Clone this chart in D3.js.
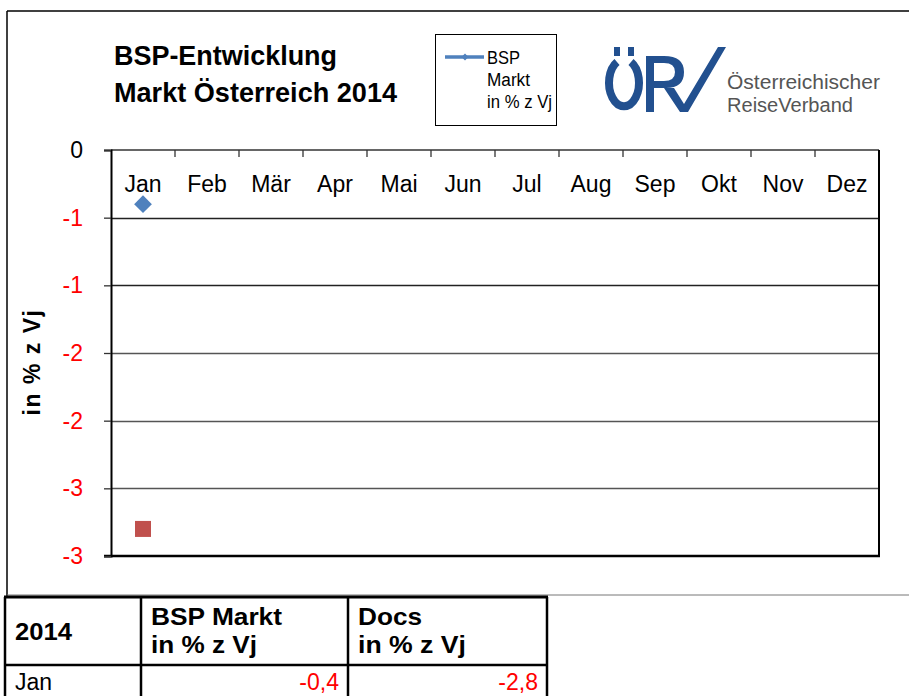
<!DOCTYPE html>
<html><head><meta charset="utf-8">
<script src="https://cdn.jsdelivr.net/npm/d3@7"></script>
<style>
html,body{margin:0;padding:0;background:#fff;}
svg{display:block;font-family:"Liberation Sans",Arial,sans-serif;}
</style></head>
<body>
<svg id="c" width="909" height="696"></svg>
<script>
// ---- data ----
const months = ["Jan","Feb","Mär","Apr","Mai","Jun","Jul","Aug","Sep","Okt","Nov","Dez"];
const bspMarkt = [-0.4];          // BSP Markt in % z Vj
const docs = [-2.8];              // Docs in % z Vj
const yTicks = [0,-0.5,-1,-1.5,-2,-2.5,-3];
const yTickLabels = ["0","-1","-1","-2","-2","-3","-3"];
const tableHeader = ["2014","BSP Markt|in % z Vj","Docs|in % z Vj"];
const tableRows = [["Jan","-0,4","-2,8"]];

const svg = d3.select("#c");
const L=111, R=879, T=150, B=556;
const x = d3.scaleBand().domain(months).range([L,R]).padding(0);
const y = d3.scaleLinear().domain([0,-3]).range([T,B]);

// helper: fit text to a measured width
function fit(sel, w){ sel.attr("textLength",w).attr("lengthAdjust","spacingAndGlyphs"); return sel; }

// outer frame
svg.append("line").attr("x1",7).attr("x2",909).attr("y1",11).attr("y2",11).attr("stroke","#000").attr("stroke-width",1.5);
svg.append("line").attr("x1",7).attr("x2",7).attr("y1",11).attr("y2",596).attr("stroke","#000").attr("stroke-width",1.5);
svg.append("line").attr("x1",7).attr("x2",909).attr("y1",595).attr("y2",595).attr("stroke","#777").attr("stroke-width",1);

// title
const title = svg.append("text").attr("font-weight","bold").attr("font-size",27).attr("fill","#000");
fit(title.append("tspan").attr("x",114).attr("y",65).text("BSP-Entwicklung"),223);
fit(title.append("tspan").attr("x",114).attr("y",102).text("Markt Österreich 2014"),283);

// legend
const lg = svg.append("g");
lg.append("rect").attr("x",435.5).attr("y",34.5).attr("width",121).attr("height",91).attr("fill","#fff").attr("stroke","#000").attr("stroke-width",1);
lg.append("line").attr("x1",445).attr("x2",484).attr("y1",57).attr("y2",57).attr("stroke","#4f81bd").attr("stroke-width",3.5);
lg.append("path").attr("d",d3.symbol(d3.symbolDiamond2,30)()).attr("transform","translate(465,57)").attr("fill","#4f81bd");
const legendLines = [["BSP",33],["Markt",43],["in % z Vj",65]];
legendLines.forEach((s,i)=>fit(lg.append("text").attr("font-size",18).attr("fill","#000").attr("x",487).attr("y",64+i*22).text(s[0]),s[1]));

// logo
const blue="#22508f";
const lgo = svg.append("g");
lgo.append("path").attr("d","M617,62 A15,23.5 0 1 0 631,62").attr("fill","none").attr("stroke",blue).attr("stroke-width",8);
lgo.append("rect").attr("x",614).attr("y",47).attr("width",6).attr("height",9).attr("fill",blue);
lgo.append("rect").attr("x",628).attr("y",47).attr("width",6).attr("height",9).attr("fill",blue);
lgo.append("path").attr("d","M646,56 L664,56 Q684,56 684,72 Q684,88 666,88 L654,88 L654,112 L646,112 Z M654,63 L654,81 L664,81 Q675,81 675,72 Q675,63 664,63 Z").attr("fill",blue).attr("fill-rule","evenodd");
lgo.append("path").attr("d","M664,88 L674,88 L684,104 L718,47 L726,47 L688,112 L680,112 Z").attr("fill",blue);
fit(lgo.append("text").attr("font-size",20).attr("fill","#555").attr("x",727).attr("y",89).text("Österreichischer"),153);
fit(lgo.append("text").attr("font-size",20).attr("fill","#555").attr("x",727).attr("y",112).text("ReiseVerband"),126);

// gridlines
svg.append("g").selectAll("line").data(yTicks.filter(d=>d!==0 && d!==-3)).join("line")
  .attr("x1",L).attr("x2",R).attr("y1",d=>Math.round(y(d))+0.5).attr("y2",d=>Math.round(y(d))+0.5)
  .attr("stroke",(d,i)=>i<2?"#222":"#555").attr("stroke-width",1.3);

// plot border
svg.append("line").attr("x1",L).attr("x2",R).attr("y1",T).attr("y2",T).attr("stroke","#333").attr("stroke-width",1.5);
svg.append("line").attr("x1",R).attr("x2",R).attr("y1",T).attr("y2",B).attr("stroke","#000").attr("stroke-width",2);
svg.append("line").attr("x1",L-7).attr("x2",R+1).attr("y1",B).attr("y2",B).attr("stroke","#000").attr("stroke-width",2.5);

// y axis
const yAxis = d3.axisLeft(y).tickValues(yTicks).tickFormat((d,i)=>yTickLabels[i]).tickSize(7).tickPadding(21);
const ya = svg.append("g").attr("transform",`translate(${L},0)`).call(yAxis);
ya.select(".domain").attr("stroke","#000").attr("stroke-width",2);
ya.selectAll(".tick line").attr("stroke","#333").attr("stroke-width",1.3);
ya.selectAll(".tick text").attr("font-size",23).attr("font-family","'Liberation Sans',Arial,sans-serif")
  .attr("fill",(d,i)=>i===0?"#000":"#ff0000");

// x axis (top, labels inside)
const xAxis = d3.axisTop(x).tickSize(0).tickPadding(0);
const xa = svg.append("g").attr("transform",`translate(0,${T})`).call(xAxis);
xa.select(".domain").remove();
xa.selectAll(".tick text").attr("font-size",23).attr("font-family","'Liberation Sans',Arial,sans-serif").attr("fill","#000").attr("y",42).attr("dy",0);
svg.append("g").selectAll("line").data(months.slice(1)).join("line")
  .attr("x1",d=>x(d)).attr("x2",d=>x(d)).attr("y1",T).attr("y2",T+7).attr("stroke","#333").attr("stroke-width",1.3);

// y title
svg.append("text").attr("transform","translate(40,362) rotate(-90)").attr("text-anchor","middle")
  .attr("font-weight","bold").attr("font-size",23).attr("letter-spacing",1.5).text("in % z Vj");

// marks
svg.append("g").selectAll("path").data(bspMarkt).join("path")
  .attr("d",d3.symbol(d3.symbolDiamond2,200)())
  .attr("transform",(d,i)=>`translate(${x(months[i])+x.bandwidth()/2},${y(d)})`).attr("fill","#4f81bd");
svg.append("g").selectAll("rect").data(docs).join("rect")
  .attr("x",(d,i)=>x(months[i])+x.bandwidth()/2-8).attr("y",d=>y(d)-8).attr("width",16).attr("height",16).attr("fill","#c0504d");

// table
const cols=[5,141,348,547];
const tg = svg.append("g");
const tTop=597, tMid=665, tBot=740;
tg.append("line").attr("x1",cols[0]-1).attr("x2",cols[3]+1).attr("y1",tTop).attr("y2",tTop).attr("stroke","#000").attr("stroke-width",3);
tg.append("line").attr("x1",cols[0]).attr("x2",cols[3]).attr("y1",tMid).attr("y2",tMid).attr("stroke","#000").attr("stroke-width",2.5);
cols.forEach(c=>tg.append("line").attr("x1",c).attr("x2",c).attr("y1",tTop).attr("y2",tBot).attr("stroke","#000").attr("stroke-width",2.5));
const headerWidths = [[57],[131,106],[64,108]];
tableHeader.forEach((h,i)=>{
  const parts=h.split("|");
  if(parts.length===1){
    fit(tg.append("text").attr("font-weight","bold").attr("font-size",24).attr("x",cols[i]+10).attr("y",640).text(parts[0]),headerWidths[i][0]);
  } else parts.forEach((p,j)=>fit(tg.append("text").attr("font-weight","bold").attr("font-size",24).attr("x",cols[i]+10).attr("y",625+j*28).text(p),headerWidths[i][j]));
});
tableRows.forEach((r,ri)=>{
  r.forEach((v,ci)=>{
    const t=tg.append("text").attr("font-size",23).attr("y",690+ri*34);
    if(ci===0) t.attr("x",cols[0]+10).attr("fill","#000").text(v);
    else t.attr("x",cols[ci+1]-9).attr("text-anchor","end").attr("fill","#ff0000").text(v);
  });
});
</script>
</body></html>
